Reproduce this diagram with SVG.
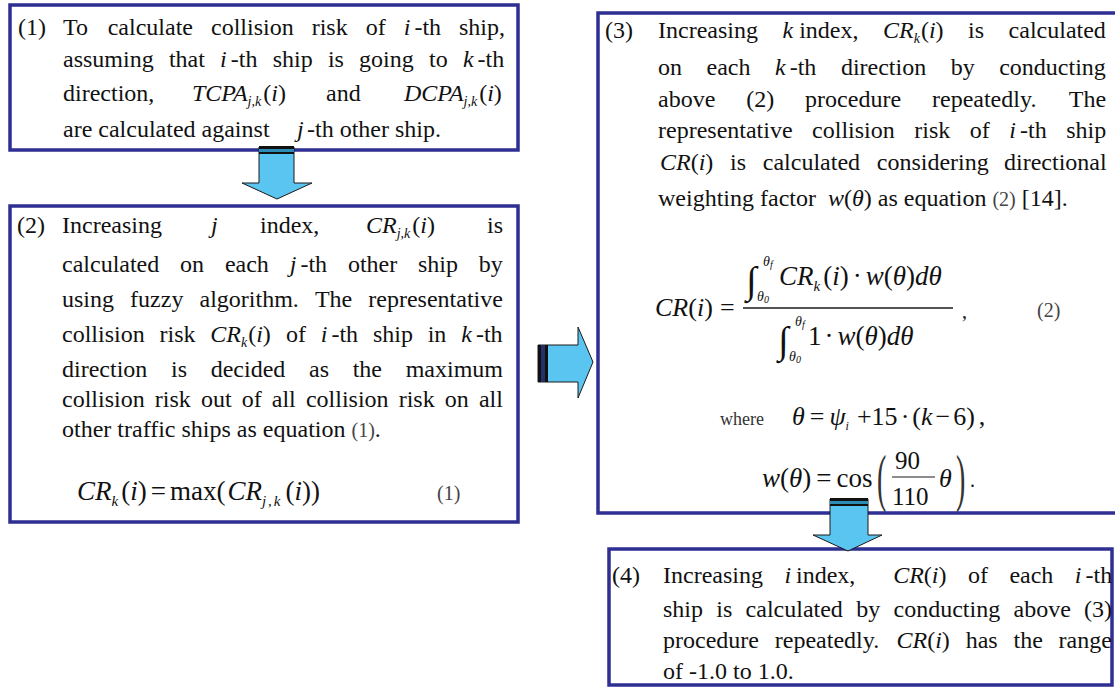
<svg xmlns="http://www.w3.org/2000/svg" width="1115" height="688" viewBox="0 0 1115 688">
<defs>
<style>
.box{fill:#fff;stroke:#2e2e93;stroke-width:3.5}
.t{font-family:"Liberation Serif","Times New Roman","DejaVu Serif",serif;font-size:24px;fill:#111}
.i{font-style:italic}
.sb{font-size:14px}
.lt{font-size:20px;fill:#444}
.arr{fill:#5bc5f2;stroke:#1a1a1a;stroke-width:1}
.cap{fill:#111}
.stripe{fill:#2b8cb5}
</style>
</defs>
<rect width="1115" height="688" fill="#fff"/>

<g id="node1">
<rect class="box" x="10" y="5" width="508" height="145"/>
<text class="t" y="35"><tspan x="18">(1)</tspan><tspan x="63">To</tspan><tspan x="107.7">calculate</tspan><tspan x="211">collision</tspan><tspan x="311.7">risk</tspan><tspan x="365.7">of</tspan><tspan x="403.7" class="i">i</tspan><tspan x="414.4">-th</tspan><tspan x="459">ship,</tspan></text>
<text class="t" y="67"><tspan x="63">assuming</tspan><tspan x="168.9">that</tspan><tspan x="220.1" class="i">i</tspan><tspan x="230.8">-th</tspan><tspan x="272.7">ship</tspan><tspan x="327.9">is</tspan><tspan x="359.1">going</tspan><tspan x="429">to</tspan><tspan x="462.9" class="i">k</tspan><tspan x="477.6">-th</tspan></text>
<text class="t" y="101"><tspan x="63">direction,</tspan><tspan x="192" class="i">TCPA</tspan><tspan class="i sb" dy="5">j,k</tspan><tspan dy="-5" dx="2">(</tspan><tspan class="i">i</tspan><tspan>)</tspan><tspan x="326">and</tspan><tspan x="404" class="i">DCPA</tspan><tspan class="i sb" dy="5">j,k</tspan><tspan dy="-5" dx="2">(</tspan><tspan class="i">i</tspan><tspan>)</tspan></text>
<text class="t" y="137"><tspan x="63">are calculated against</tspan><tspan x="297" class="i">j</tspan><tspan x="307">-th other ship.</tspan></text>
</g>

<g id="node2">
<rect class="box" x="10" y="206" width="508" height="316"/>
<text class="t" y="233"><tspan x="17">(2)</tspan><tspan x="62">Increasing</tspan><tspan x="211" class="i">j</tspan><tspan x="260">index,</tspan><tspan x="366" class="i">CR</tspan><tspan class="i sb" dy="5">j,k</tspan><tspan dy="-5" dx="2">(</tspan><tspan class="i">i</tspan><tspan>)</tspan><tspan x="487">is</tspan></text>
<text class="t" y="272"><tspan x="62">calculated</tspan><tspan x="180.1">on</tspan><tspan x="224.9">each</tspan><tspan x="289.7" class="i">j</tspan><tspan x="300.4">-th</tspan><tspan x="347.9">other</tspan><tspan x="418">ship</tspan><tspan x="478.8">by</tspan></text>
<text class="t" y="307"><tspan x="62">using</tspan><tspan x="130.1">fuzzy</tspan><tspan x="199.5">algorithm.</tspan><tspan x="314.9">The</tspan><tspan x="368.3">representative</tspan></text>
<text class="t" y="342"><tspan x="62">collision</tspan><tspan x="159.5">risk</tspan><tspan x="210.3" class="i">CR</tspan><tspan class="i sb" dy="5">k</tspan><tspan dy="-5" dx="1">(</tspan><tspan class="i">i</tspan><tspan>)</tspan><tspan x="285.9">of</tspan><tspan x="320.7" class="i">i</tspan><tspan x="331.4">-th</tspan><tspan x="372.9">ship</tspan><tspan x="427.7">in</tspan><tspan x="461.2" class="i">k</tspan><tspan x="475.9">-th</tspan></text>
<text class="t" y="377"><tspan x="62">direction</tspan><tspan x="171">is</tspan><tspan x="210.7">decided</tspan><tspan x="309">as</tspan><tspan x="352.7">the</tspan><tspan x="405.7">maximum</tspan></text>
<text class="t" y="407"><tspan x="62">collision</tspan><tspan x="154.8">risk</tspan><tspan x="200.9">out</tspan><tspan x="241.7">of</tspan><tspan x="271.8">all</tspan><tspan x="305.9">collision</tspan><tspan x="398.7">risk</tspan><tspan x="444.8">on</tspan><tspan x="478.9">all</tspan></text>
<text class="t" x="62" y="437">other traffic ships as equation <tspan class="lt">(1)</tspan>.</text>
<text class="t" x="77" y="500" style="font-size:27px"><tspan class="i">CR</tspan><tspan class="i" style="font-size:15px" dy="6">k</tspan><tspan dy="-6" dx="3">(</tspan><tspan class="i">i</tspan><tspan>)</tspan><tspan dx="4">=</tspan><tspan dx="4">max(</tspan><tspan class="i" dx="2">CR</tspan><tspan class="i" style="font-size:15px;letter-spacing:2px" dy="6">j,k</tspan><tspan dy="-6" dx="3">(</tspan><tspan class="i">i</tspan><tspan>))</tspan></text>
<text class="t lt" x="437" y="500">(1)</text>
</g>

<g id="node3">
<rect class="box" x="598" y="13" width="522" height="500"/>
<text class="t" y="38"><tspan x="605">(3)</tspan><tspan x="658">Increasing</tspan><tspan x="782.5" class="i">k</tspan><tspan x="799.2">index,</tspan><tspan x="883" class="i">CR</tspan><tspan class="i sb" dy="5">k</tspan><tspan dy="-5" dx="1">(</tspan><tspan class="i">i</tspan><tspan>)</tspan><tspan x="968.1">is</tspan><tspan x="1008.6">calculated</tspan></text>
<text class="t" y="75"><tspan x="658">on</tspan><tspan x="706.5">each</tspan><tspan x="775" class="i">k</tspan><tspan x="789.7">-th</tspan><tspan x="840.9">direction</tspan><tspan x="950.7">by</tspan><tspan x="999.2">conducting</tspan></text>
<text class="t" y="107"><tspan x="658">above</tspan><tspan x="746.2">(2)</tspan><tspan x="805.1">procedure</tspan><tspan x="932">repeatedly.</tspan><tspan x="1068.8">The</tspan></text>
<text class="t" y="138"><tspan x="658">representative</tspan><tspan x="812.1">collision</tspan><tspan x="914.3">risk</tspan><tspan x="969.8">of</tspan><tspan x="1009.3" class="i">i</tspan><tspan x="1020">-th</tspan><tspan x="1066.2">ship</tspan></text>
<text class="t" y="170"><tspan x="660" class="i">CR</tspan><tspan>(</tspan><tspan class="i">i</tspan><tspan>)</tspan><tspan x="730.1">is</tspan><tspan x="762.8">calculated</tspan><tspan x="876.8">considering</tspan><tspan x="1004">directional</tspan></text>
<text class="t" x="658" y="206">weighting factor<tspan dx="12" class="i">w</tspan>(<tspan class="i">θ</tspan>) as equation <tspan class="lt">(2)</tspan> [14].</text>

<text class="t i" x="655" y="316" style="font-size:26px">CR<tspan style="font-style:normal">(</tspan>i<tspan style="font-style:normal">)</tspan></text>
<text class="t" x="720" y="316" style="font-size:26px">=</text>
<line x1="743" y1="308" x2="953" y2="308" stroke="#1a1a1a" stroke-width="1.3"/>
<text class="t" x="746" y="293" style="font-size:38px">∫</text>
<text class="t i" x="763" y="266" style="font-size:14px">θ<tspan dy="2" style="font-size:10px">f</tspan></text>
<text class="t i" x="757" y="301" style="font-size:14px">θ<tspan dy="2" style="font-size:10px">0</tspan></text>
<text class="t" x="779" y="285" style="font-size:27px"><tspan class="i">CR</tspan><tspan class="i" style="font-size:15px" dy="6">k</tspan><tspan dy="-6" dx="3">(</tspan><tspan class="i">i</tspan><tspan>)</tspan><tspan dx="4">·</tspan><tspan dx="4" class="i">w</tspan><tspan>(</tspan><tspan class="i">θ</tspan><tspan>)</tspan><tspan class="i">dθ</tspan></text>
<text class="t" x="778" y="353" style="font-size:38px">∫</text>
<text class="t i" x="795" y="326" style="font-size:14px">θ<tspan dy="2" style="font-size:10px">f</tspan></text>
<text class="t i" x="789" y="361" style="font-size:14px">θ<tspan dy="2" style="font-size:10px">0</tspan></text>
<text class="t" x="808" y="345" style="font-size:27px">1<tspan dx="3">·</tspan><tspan dx="4" class="i">w</tspan><tspan>(</tspan><tspan class="i">θ</tspan><tspan>)</tspan><tspan class="i">dθ</tspan></text>
<text class="t" x="962" y="318" style="font-size:20px">,</text>
<text class="t lt" x="1037" y="317">(2)</text>

<text class="t" x="720" y="425" style="font-size:18px;fill:#333">where</text>
<text class="t" x="792" y="425" style="font-size:26px"><tspan class="i">θ</tspan><tspan dx="5">=</tspan><tspan dx="5" class="i">ψ</tspan><tspan class="i" style="font-size:12px" dy="5">i</tspan><tspan dy="-5" dx="8">+15</tspan><tspan dx="3">·</tspan><tspan dx="3">(</tspan><tspan class="i">k</tspan><tspan dx="3">−</tspan><tspan dx="3">6)</tspan><tspan dx="4">,</tspan></text>
<text class="t" x="762" y="487" style="font-size:27px"><tspan class="i">w</tspan><tspan>(</tspan><tspan class="i">θ</tspan><tspan>)</tspan><tspan dx="5">=</tspan><tspan dx="5">cos</tspan></text>
<text class="t" transform="translate(877,499) scale(1,2.3)" style="font-size:28px;fill:#333">(</text>
<text class="t" x="895" y="469" style="font-size:25px">90</text>
<line x1="892" y1="477" x2="935" y2="477" stroke="#1a1a1a" stroke-width="1.2"/>
<text class="t" x="892" y="505" style="font-size:25px">110</text>
<text class="t i" x="939" y="487" style="font-size:26px">θ</text>
<text class="t" transform="translate(956,499) scale(1,2.3)" style="font-size:28px;fill:#333">)</text>
<text class="t" x="970" y="487" style="font-size:20px">.</text>
</g>

<g id="node4">
<rect class="box" x="609" y="549" width="503" height="136"/>
<text class="t" y="583"><tspan x="612">(4)</tspan><tspan x="663">Increasing</tspan><tspan x="784.4" class="i">i</tspan><tspan x="796">index,</tspan><tspan x="893.2" class="i">CR</tspan><tspan>(</tspan><tspan class="i">i</tspan><tspan>)</tspan><tspan x="968">of</tspan><tspan x="1009.4">each</tspan><tspan x="1074.8" class="i">i</tspan><tspan x="1085.5">-th</tspan></text>
<text class="t" y="617"><tspan x="663">ship</tspan><tspan x="716.3">is</tspan><tspan x="745.6">calculated</tspan><tspan x="856.2">by</tspan><tspan x="893.5">conducting</tspan><tspan x="1013.5">above</tspan><tspan x="1084.1">(3)</tspan></text>
<text class="t" y="648"><tspan x="663">procedure</tspan><tspan x="774.8">repeatedly.</tspan><tspan x="896.5" class="i">CR</tspan><tspan>(</tspan><tspan class="i">i</tspan><tspan>)</tspan><tspan x="965.7">has</tspan><tspan x="1013.5">the</tspan><tspan x="1058.6">range</tspan></text>
<text class="t" x="663" y="679">of -1.0 to 1.0.</text>
</g>

<g id="connectors">
<g id="arrow-1-2">
<polygon class="arr" points="259,147 294,147 294,183 312,183 277,199 242,183 259,183"/>
<rect class="cap" x="259" y="146" width="35" height="3"/>
<rect class="stripe" x="259" y="149" width="35" height="3"/>
<rect class="cap" x="259" y="152" width="35" height="2"/>
</g>
<g id="arrow-2-3">
<polygon class="arr" points="538,345 578,345 578,327 593,362 578,398 578,382 538,382"/>
<rect class="cap" x="538" y="345" width="3" height="37"/>
<rect x="541" y="345" width="4" height="37" fill="#23306a"/>
<rect class="cap" x="545" y="345" width="3" height="37"/>
</g>
<g id="arrow-3-4">
<polygon class="arr" points="830,499 868,499 868,535 882,535 848,551 813,535 830,535"/>
<rect class="cap" x="830" y="498" width="38" height="3"/>
<rect class="stripe" x="830" y="501" width="38" height="3"/>
<rect class="cap" x="830" y="504" width="38" height="2"/>
</g>
</g>
</svg>
